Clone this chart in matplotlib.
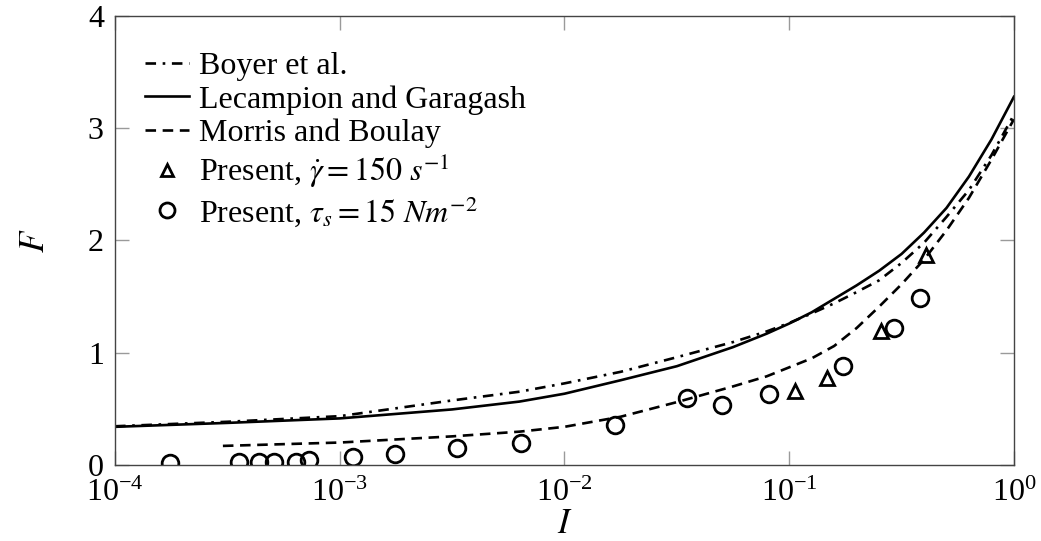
import matplotlib
matplotlib.use("Agg")
import matplotlib.pyplot as plt
import numpy as np

# --- data ---
# model curves: log10(I) positions where F was read, then F values
boyer_logI = [-4, -3.5, -3, -2.5, -2.2, -2, -1.75, -1.5, -1.25, -1.1, -1,
              -0.9, -0.8, -0.7, -0.6, -0.5, -0.4, -0.3, -0.2, -0.1, 0]
boyer_F = [0.345, 0.385, 0.435, 0.575, 0.653, 0.727, 0.83, 0.96, 1.095, 1.19, 1.265,
           1.35, 1.44, 1.54, 1.645, 1.80, 1.98, 2.21, 2.45, 2.76, 3.12]

lecampion_logI = [-4, -3.5, -3, -2.5, -2.2, -2, -1.75, -1.5, -1.25, -1.1, -1,
                  -0.9, -0.8, -0.7, -0.6, -0.5, -0.4, -0.3, -0.2, -0.1, 0]
lecampion_F = [0.34, 0.375, 0.415, 0.495, 0.565, 0.635, 0.755, 0.88, 1.05, 1.17, 1.26,
               1.36, 1.48, 1.60, 1.73, 1.88, 2.07, 2.29, 2.57, 2.90, 3.28]

morris_logI = [-3.52, -3, -2.5, -2.2, -2, -1.75, -1.5, -1.25, -1.1, -1,
               -0.9, -0.8, -0.7, -0.6, -0.5, -0.4, -0.3, -0.2, -0.1, 0]
morris_F = [0.17, 0.20, 0.255, 0.297, 0.34, 0.43, 0.56, 0.70, 0.79, 0.87,
            0.95, 1.06, 1.22, 1.41, 1.61, 1.83, 2.09, 2.38, 2.72, 3.08]

# simulation points
tri_I = [0.106, 0.148, 0.256, 0.408]
tri_F = [0.659, 0.777, 1.19, 1.87]

circ_I = [1.76e-4, 3.55e-4, 4.35e-4, 5.08e-4, 6.37e-4, 7.33e-4, 1.15e-3, 1.77e-3,
          3.33e-3, 6.38e-3, 1.68e-2, 3.5e-2, 5.02e-2, 8.1e-2, 0.173, 0.294, 0.382]
circ_F = [0.015, 0.024, 0.024, 0.03, 0.03, 0.047, 0.071, 0.10,
          0.154, 0.193, 0.353, 0.60, 0.537, 0.635, 0.879, 1.22, 1.487]

x_ticks = [1e-4, 1e-3, 1e-2, 1e-1, 1e0]
y_ticks = [0, 1, 2, 3, 4]

# --- style ---
plt.rcParams['font.family'] = ['Liberation Serif', 'DejaVu Serif']
plt.rcParams['mathtext.fontset'] = 'stix'

fig = plt.figure(figsize=(10.41, 5.41), dpi=100)
ax = fig.add_axes([0.1105, 0.1405, 0.8635, 0.83])

ax.plot(10 ** np.array(boyer_logI), boyer_F, color='black', lw=1.9,
        ls=(0, (4, 2.5, 1, 2.5)), label='Boyer et al.')
ax.plot(10 ** np.array(lecampion_logI), lecampion_F, color='black', lw=1.9,
        ls='-', label='Lecampion and Garagash')
ax.plot(10 ** np.array(morris_logI), morris_F, color='black', lw=1.9,
        ls=(0, (4, 2.5)), label='Morris and Boulay')
ax.plot(tri_I, tri_F, ls='none', marker='^', ms=10, mfc='none', mec='black',
        mew=2, label=r'Present, $\dot{\gamma} = 150\ s^{-1}$')
ax.plot(circ_I, circ_F, ls='none', marker='o', ms=12, mfc='none', mec='black',
        mew=2, label=r'Present, $\tau_s = 15\ Nm^{-2}$')

ax.set_xscale('log')
ax.set_xlim(1e-4, 1e0)
ax.set_ylim(0, 4)
ax.set_xticks(x_ticks)
ax.set_yticks(y_ticks)
ax.xaxis.set_minor_locator(matplotlib.ticker.NullLocator())

ax.tick_params(direction='in', length=10, width=1, color='#9a9a9a',
               top=True, right=True, labelsize=23)
ax.tick_params(axis='x', pad=10)
ax.tick_params(axis='y', pad=8)
for s in ax.spines.values():
    s.set_color('#444444')
    s.set_linewidth(1)

ax.set_xlabel(r'$I$', fontsize=25, labelpad=0)
ax.set_ylabel(r'$F$', fontsize=25, labelpad=26)

leg = ax.legend(loc='upper left', bbox_to_anchor=(0.033, 0.92), frameon=False,
                fontsize=23, handlelength=1.4, handletextpad=0.3,
                labelspacing=0.12, borderaxespad=0, borderpad=0,
                markerscale=0.9)

fig.savefig('out.png', dpi=100)
